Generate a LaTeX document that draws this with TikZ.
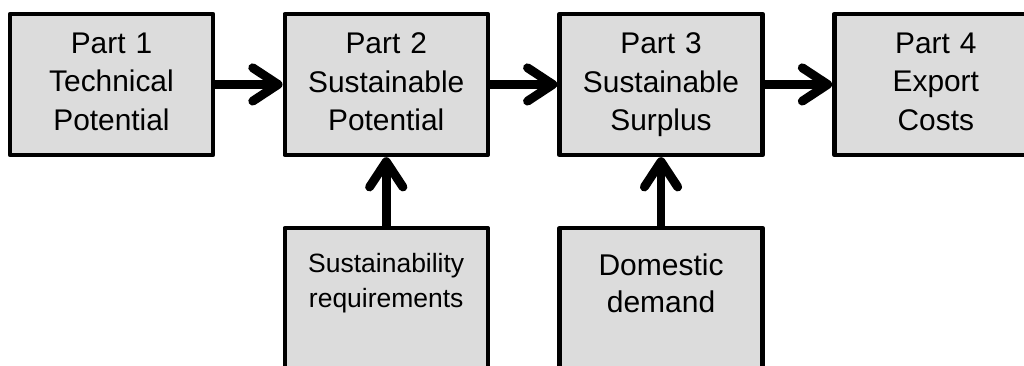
\documentclass[tikz,border=0pt]{standalone}
\usepackage{fontspec}
\setmainfont{Liberation Sans}
\usetikzlibrary{positioning,calc,arrows.meta}
\definecolor{boxgray}{RGB}{220,220,220}

\begin{document}
\begin{tikzpicture}[part/.style={rectangle,draw,fill=boxgray,line width=1.9pt,line join=round,text width=2.845cm,align=center,inner xsep=.1cm,inner ysep=.1cm,minimum height=2.115cm,text depth=35.4pt,font=\fontsize{12.75}{16.5}\selectfont},
input/.style={rectangle,draw,fill=boxgray,line width=1.9pt,line join=round,text width=2.845cm,align=center,inner xsep=.1cm,inner ysep=.38cm,text depth=1.3cm},
feed/.style={line width=3.8pt,-{Straight Barb[length=.38cm,width=.5cm,round]}},
node distance=1.01cm]


%%%%%%%%%%%%%%%%%%%%%% PARTS

\node[part] (P1) {Part 1\\Technical\\Potential};
\node[part,right=of P1] (P2) {Part 2\\Sustainable\\Potential};
\node[part,right=of P2] (P3) {Part 3\\Sustainable\\Surplus};
\node[part,right=of P3] (P4) {Part 4\\Export\\Costs};

%%%%%%%%%%%%%%%%%%%%%% INPUTS

\node[input,below=1.03cm of P2,font=\fontsize{11.3}{15}\selectfont] (Req) {Sustainability\\requirements};
\node[input,below=1.03cm of P3,font=\fontsize{12.8}{15.8}\selectfont] (Dem) {Domestic\\demand};

\draw[feed] (P1) -- (P2);
\draw[feed] (P2) -- (P3);
\draw[feed] (P3) -- (P4);
\draw[feed] (Req) -- (P2);
\draw[feed] (Dem) -- (P3);

% page cut: the bottom row and the last part run off the edge
\pgfresetboundingbox
\useasboundingbox ($(P1.north west)+(-.116,.176)$) rectangle ++(15.36,-5.475);

\end{tikzpicture}
\end{document}
